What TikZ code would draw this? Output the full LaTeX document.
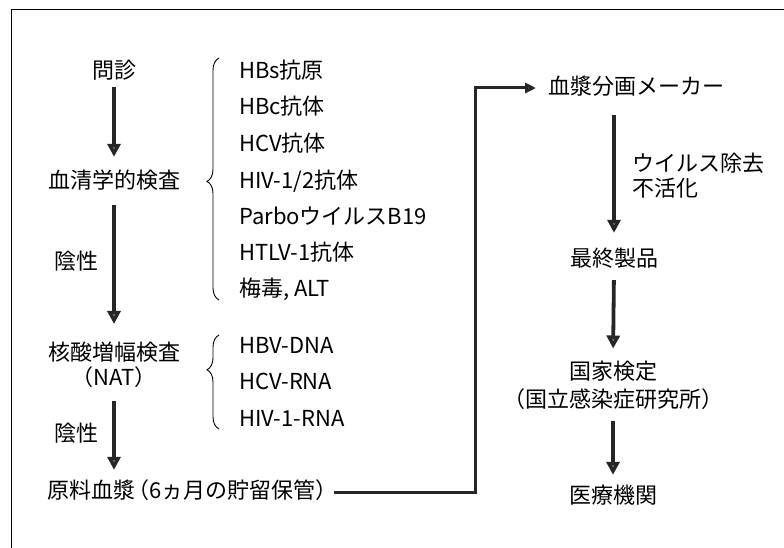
\documentclass[tikz,border=0pt]{standalone}
\usepackage{fontspec}
\setmainfont{Noto Sans CJK JP}
\usetikzlibrary{arrows.meta,decorations.pathreplacing}
\begin{document}
\begin{tikzpicture}[x=1pt,y=-1pt,
  lbl/.style={inner sep=0pt,font=\fontsize{22}{25}\selectfont,text height=17pt,text depth=4pt},
  lblm/.style={inner sep=0pt,font=\fontsize{22}{25}\selectfont},
  lblk/.style={inner sep=0pt,font=\fontsize{22}{28}\selectfont},
  arr/.style={line width=3.8pt,draw=black!85,-{Triangle[width=13pt,length=13pt,fill=black!55]}},
  conn/.style={line width=3pt,draw=black!85,-{Triangle[width=10pt,length=11pt,fill=black!55]}},
  brc/.style={line width=0.9pt,decorate,decoration={brace,amplitude=12pt}},
  frame/.style={line width=1pt}]
\useasboundingbox (0,0) rectangle (784,548);
% frame
\coordinate (fTR) at (784,10);
\coordinate (fTL) at (11,10);
\coordinate (fBL) at (11,548);
\draw[frame] (fTR) -- (fTL) -- (fBL);

% left column
\node[lbl] (monshin) at (114,72) {問診};
\node[lbl] (sero) at (114,182) {血清学的検査};
\node[lbl] (neg1) at (76,263) {陰性};
\node[lblm,align=center] (nat) at (114,365) {核酸増幅検査\\（NAT）};
\node[lbl] (neg2) at (76,435) {陰性};
\node[lbl,anchor=west] (raw) at (47,492) {原料血漿\kern-0.35em（6ヵ月の貯留保管）};

% serology items
\node[lbl,anchor=west] (i1) at (239,72) {HBs抗原};
\node[lbl,anchor=west] (i2) at (239,108) {HBc抗体};
\node[lbl,anchor=west] (i3) at (239,145) {HCV抗体};
\node[lbl,anchor=west] (i4) at (239,182) {HIV-1/2抗体};
\node[lbl,anchor=west] (i5) at (239,218) {ParboウイルスB19};
\node[lbl,anchor=west] (i6) at (239,254) {HTLV-1抗体};
\node[lbl,anchor=west] (i7) at (239,290) {梅毒, ALT};
% NAT items
\node[lbl,anchor=west] (n1) at (239,347) {HBV-DNA};
\node[lbl,anchor=west] (n2) at (239,383) {HCV-RNA};
\node[lbl,anchor=west] (n3) at (239,420) {HIV-1-RNA};

% braces
\coordinate (b1s) at (219,300);
\coordinate (b1e) at (219,58);
\draw[brc,decoration={aspect=0.49}] (b1s) -- (b1e);
\coordinate (b2s) at (219,429);
\coordinate (b2e) at (219,335);
\draw[brc,decoration={aspect=0.63}] (b2s) -- (b2e);

% right column
\node[lbl,anchor=west] (maker) at (548,88) {血漿分画メーカー};
\node[lblm,anchor=west,align=left] (virus) at (632,176) {ウイルス除去\\不活化};
\node[lbl] (final) at (614,260) {最終製品};
\node[lblk,align=center] (kokka) at (613,385) {国家検定\\（国立感染症研究所）};
\node[lbl] (iryo) at (613,497) {医療機関};

% arrows left
\draw[arr,shorten <=4.5pt,shorten >=14.5pt] (monshin.south) -- (sero.north);
\draw[arr,shorten <=12.5pt,shorten >=18pt] (sero.south) -- (nat.north);
\draw[arr,shorten <=12.5pt,shorten >=11.5pt] (nat.south) -- (raw.north -| nat.south);

% connector
\coordinate (turn) at (475,88);
\draw[conn,line join=miter,shorten <=-4pt,shorten >=12pt] (raw.east) -| (turn) -- (maker.west);

% arrows right
\draw[arr,shorten <=16.5pt,shorten >=16.5pt] (maker.south -| final.north) -- (final.north);
\draw[arr,shorten <=9.5pt,shorten >=12pt] (final.south) -- (kokka.north);
\draw[arr,shorten <=11.5pt,shorten >=11.5pt] (kokka.south) -- (iryo.north);
\end{tikzpicture}
\end{document}
